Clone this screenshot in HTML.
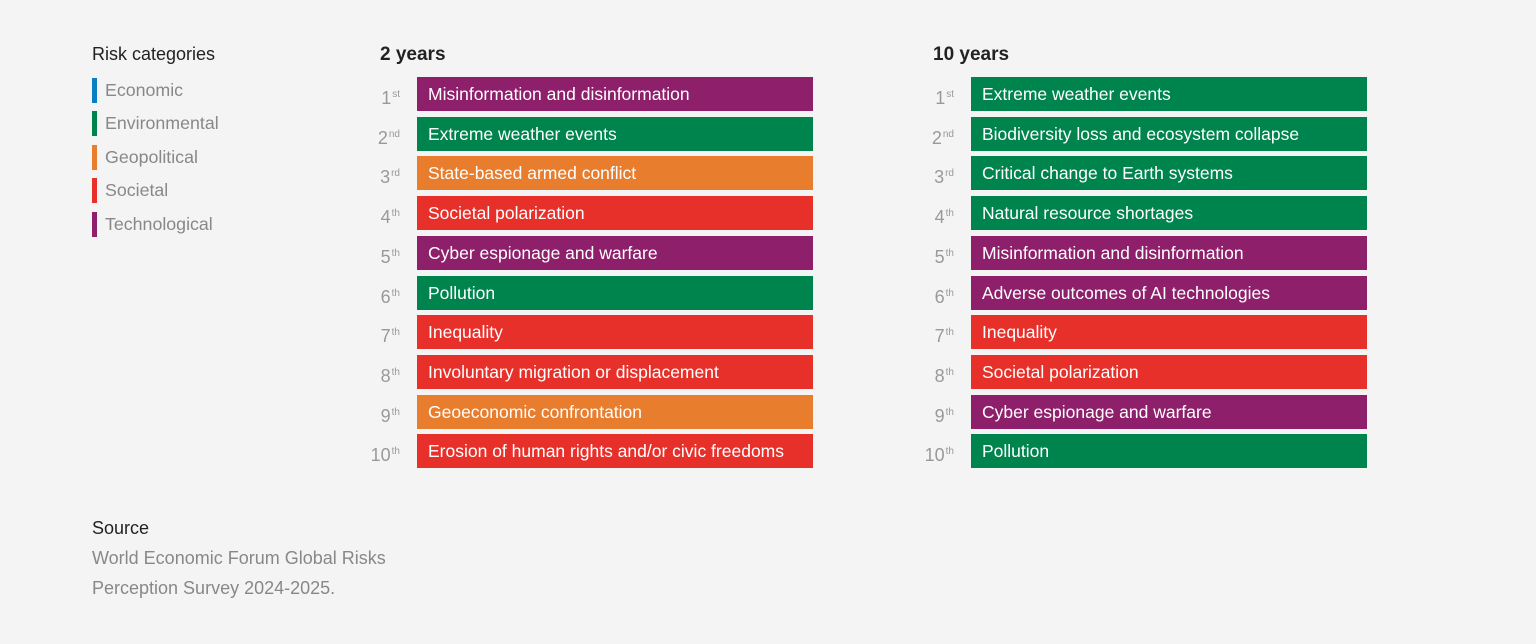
<!DOCTYPE html>
<html><head><meta charset="utf-8"><style>
body{margin:0;width:1536px;height:644px;background:#f4f4f4;font-family:"Liberation Sans",Arial,sans-serif;position:relative;overflow:hidden}
.a{position:absolute;white-space:nowrap}
.h{font-size:19px;font-weight:bold;color:#222;top:44px}
.lg{font-size:17.8px;color:#888;left:105px}
.lb{position:absolute;left:92px;width:5px;height:25px}
.bar{position:absolute;width:396px;height:34px;color:#fff;font-size:17.5px;line-height:34px;padding-left:11px;box-sizing:border-box}
.rk{position:absolute;width:50px;text-align:right;font-size:18px;color:#999;line-height:36px}
.rk sup{font-size:10px;vertical-align:7px;margin-left:1px}
.P{background:#8e1f6b}.G{background:#00844d}.O{background:#e87d2e}.R{background:#e8302a}
</style></head><body>
<div class="a" style="left:92px;top:44px;font-size:18px;color:#222">Risk categories</div>
<div class="lb" style="top:78px;background:#0a7ec2"></div><div class="a lg" style="top:80px">Economic</div>
<div class="lb" style="top:111px;background:#00844d"></div><div class="a lg" style="top:113px">Environmental</div>
<div class="lb" style="top:145px;background:#e87d2e"></div><div class="a lg" style="top:147px">Geopolitical</div>
<div class="lb" style="top:178px;background:#e8302a"></div><div class="a lg" style="top:180px">Societal</div>
<div class="lb" style="top:212px;background:#8e1f6b"></div><div class="a lg" style="top:214px">Technological</div>
<div class="a h" style="left:380px">2 years</div>
<div class="a h" style="left:933px">10 years</div>
<div class="a" style="left:92px;top:518px;font-size:18px;color:#222">Source</div>
<div class="a" style="left:92px;top:543px;font-size:18px;color:#888;line-height:30px">World Economic Forum Global Risks<br>Perception Survey 2024-2025.</div>
<div id="c"></div>
<script>
const L=[["P","Misinformation and disinformation"],["G","Extreme weather events"],["O","State-based armed conflict"],["R","Societal polarization"],["P","Cyber espionage and warfare"],["G","Pollution"],["R","Inequality"],["R","Involuntary migration or displacement"],["O","Geoeconomic confrontation"],["R","Erosion of human rights and/or civic freedoms"]];
const R=[["G","Extreme weather events"],["G","Biodiversity loss and ecosystem collapse"],["G","Critical change to Earth systems"],["G","Natural resource shortages"],["P","Misinformation and disinformation"],["P","Adverse outcomes of AI technologies"],["R","Inequality"],["R","Societal polarization"],["P","Cyber espionage and warfare"],["G","Pollution"]];
const suf=["st","nd","rd","th","th","th","th","th","th","th"];
let h="";
[[L,417],[R,971]].forEach(([d,x])=>{d.forEach((e,i)=>{const y=77+i*39.7;
h+=`<div class="rk" style="left:${x-67}px;top:${y}px">${i+1}<sup>${suf[i]}</sup></div><div class="bar ${e[0]}" style="left:${x}px;top:${y}px">${e[1]}</div>`;});});
document.getElementById("c").innerHTML=h;
</script>
</body></html>
